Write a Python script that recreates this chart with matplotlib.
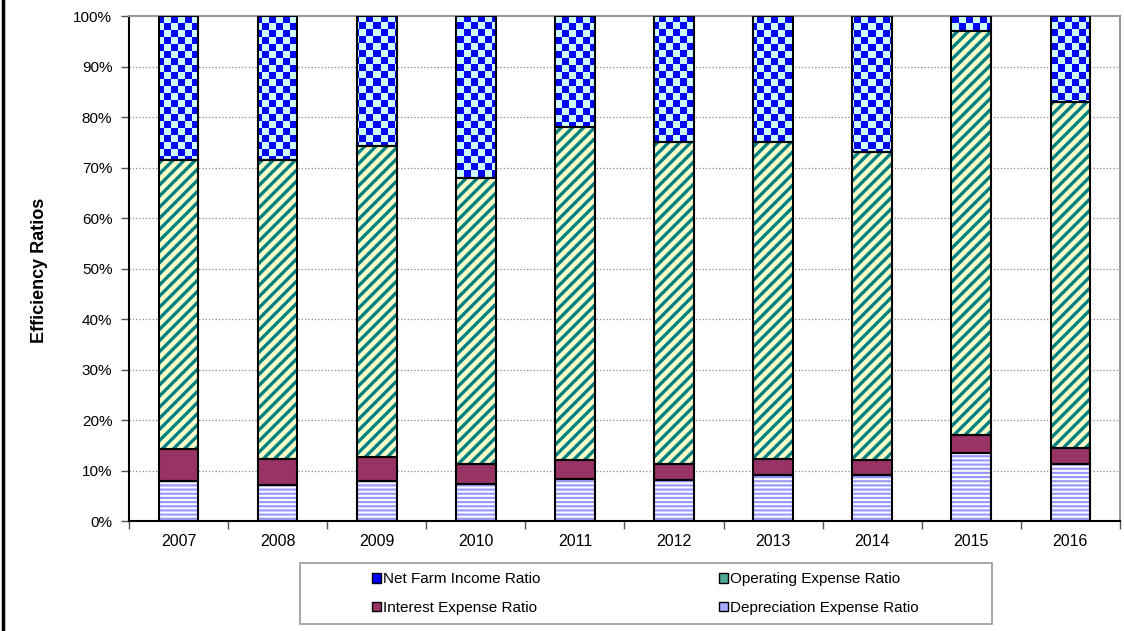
import numpy as np
import matplotlib
matplotlib.use("Agg")
import matplotlib.pyplot as plt
from matplotlib.lines import Line2D
from matplotlib.patches import Patch, Rectangle

plt.rcParams['font.family'] = ['Liberation Sans', 'DejaVu Sans']
plt.rcParams['hatch.linewidth'] = 1.6

years = ['2007', '2008', '2009', '2010', '2011', '2012', '2013', '2014', '2015', '2016']
depreciation = [8.0, 7.1, 7.9, 7.4, 8.3, 8.1, 9.1, 9.2, 13.4, 11.2]
interest = [6.3, 5.2, 4.7, 3.8, 3.8, 3.2, 3.2, 2.8, 3.6, 3.3]
operating = [57.2, 59.2, 61.6, 56.7, 66.0, 63.7, 62.8, 61.1, 80.1, 68.4]
net_income = [28.5, 28.5, 25.8, 32.1, 21.9, 25.0, 24.9, 26.9, 2.9, 17.1]

fig = plt.figure(figsize=(11.24, 6.31), dpi=100)
ax = fig.add_axes([0.1148, 0.1743, 0.8816, 0.8003])

x = np.arange(len(years))
w = 0.4
dep = np.array(depreciation)
intr = np.array(interest)
op = np.array(operating)
net = np.array(net_income)

# filled + hatched layers
ax.bar(x, dep, w, color='white', edgecolor='#9999ff', hatch='----', linewidth=0, zorder=2)
ax.bar(x, intr, w, bottom=dep, color='#993366', linewidth=0, zorder=2)
with plt.rc_context({'hatch.linewidth': 2.4}):
    op_bars = ax.bar(x, op, w, bottom=dep + intr, color='#ffffcc', edgecolor='#008080',
                     hatch='///', linewidth=0, zorder=2)
for b in op_bars:
    if hasattr(b, 'set_hatch_linewidth'):
        b.set_hatch_linewidth(2.4)
net_bars = ax.bar(x, net, w, bottom=dep + intr + op, color='#ccffff', linewidth=0, zorder=2)

# checkerboard for net farm income
ncx, ncy = 142, 72
checker = np.zeros((ncy, ncx, 4))
ii, jj = np.indices((ncy, ncx))
checker[(ii + jj) % 2 == 0] = [0, 0, 1, 1]
for b in net_bars:
    im = ax.imshow(checker, extent=[0, 1, 0, 1], transform=ax.transAxes,
                   interpolation='nearest', aspect='auto', zorder=2.5)
    im.set_clip_path(b)

# black outlines
bottoms = [np.zeros(len(x)), dep, dep + intr, dep + intr + op]
for vals, bot in zip([dep, intr, op, net], bottoms):
    ax.bar(x, vals, w, bottom=bot, fill=False, edgecolor='black', linewidth=1.5, zorder=3)

ax.set_xlim(-0.5, len(years) - 0.5)
ax.set_ylim(0, 100)
ax.set_yticks(np.arange(0, 101, 10))
ax.set_yticklabels([f'{v}%' for v in range(0, 101, 10)], fontsize=11)
ax.set_xticks(np.arange(-0.5, len(years), 1.0))
ax.set_xticklabels([])
ax.set_xticks(x, minor=True)
ax.set_xticklabels(years, minor=True, fontsize=11.5)
ax.tick_params(axis='x', which='minor', length=0, pad=9)
ax.tick_params(axis='x', which='major', length=6, width=1, color='#555555')
ax.tick_params(axis='y', length=6, width=1, color='#555555', pad=6)

for v in range(10, 100, 10):
    ax.axhline(v, color='#888888', linestyle=':', linewidth=0.9, zorder=1)

ax.spines['left'].set_color('black')
ax.spines['bottom'].set_color('black')
ax.spines['left'].set_linewidth(1.5)
ax.spines['bottom'].set_linewidth(1.5)
ax.spines['top'].set_color('#999999')
ax.spines['right'].set_color('#999999')
ax.spines['top'].set_linewidth(1.5)
ax.spines['right'].set_linewidth(1.5)

ax.set_ylabel('Efficiency Ratios', fontsize=13, fontweight='bold')
ax.yaxis.set_label_coords(-0.0915, 0.5, transform=ax.transAxes)
ax.yaxis.label.set_transform(fig.transFigure)
ax.yaxis.label.set_position((48 / 1124, 1 - 270 / 631))

# legend: frame plus two columns
fig.add_artist(Rectangle((300 / 1124, 1 - 624 / 631), 692 / 1124, 61 / 631,
                         transform=fig.transFigure, facecolor='white',
                         edgecolor='#999999', linewidth=1.2))
col1 = [
    Patch(facecolor='#0000ff', edgecolor='black', label='Net Farm Income Ratio'),
    Patch(facecolor='#993366', edgecolor='black', label='Interest Expense Ratio'),
]
col2 = [
    Patch(facecolor='#4fa89a', edgecolor='black', label='Operating Expense Ratio'),
    Patch(facecolor='#aaaaff', edgecolor='black', label='Depreciation Expense Ratio'),
]
for handles, x0 in [(col1, 372), (col2, 719)]:
    leg = fig.legend(handles=handles, loc='center left',
                     bbox_to_anchor=(x0 / 1124, 1 - 593.5 / 631),
                     fontsize=11, frameon=False, handlelength=0.6, handleheight=0.6,
                     handletextpad=0.15, borderpad=0, borderaxespad=0, labelspacing=0.95)

fig.add_artist(Line2D([0.003, 0.003], [0, 1], color='black', linewidth=2.5,
                      transform=fig.transFigure))

fig.savefig('out.png', dpi=100)
